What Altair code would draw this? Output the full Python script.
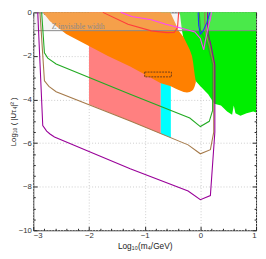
import altair as alt
import pandas as pd

W, H = 229, 224

# ---- regions (log10 m, log10 |U|^2) ----
orange_x = [-2.83, -2.70, -2.41, -2.0, -1.66, -1.26, -0.71, -0.54, -0.44, -0.39, -0.30, -0.24, -0.19, -0.15, -0.13, -0.11, -0.10, -0.08]
orange_lo = [0, -0.41, -0.99, -1.54, -2.0, -2.48, -3.25, -3.38, -3.5, -3.56, -3.65, -3.68, -3.66, -3.6, -3.55, -3.45, -3.38, -3.2]
orange_hi = [0, 0, 0, 0, 0, 0, 0, 0, -0.55, -0.84, -1.14, -1.45, -1.72, -2.0, -2.3, -2.7, -2.9, -3.2]

green_x = [-0.37, -0.33, -0.28, -0.2, -0.12, -0.10, 0.0, 0.14, 0.25, 0.37, 0.48, 0.57, 0.60, 0.63, 0.72, 0.83, 0.95, 1.0]
green_lo = [0, -0.84, -1.5, -2.3, -3.0, -3.1, -3.39, -3.76, -4.19, -4.27, -4.55, -4.7, -4.27, -4.63, -4.75, -4.63, -4.55, -4.6]

pink_x = [-2.0, -1.26, -0.71]
pink_lo = [-4.22, -4.99, -5.57]
cyan_x = [-0.71, -0.53]
cyan_lo = [-5.57, -5.76]

box_x = [-1.0, -0.52]
box_y = [-2.96, -2.74]

band_y = [-0.84, 0]
band_label = "Z invisible width"
band_label_pos = [-2.67, -0.66]

# ---- curves ----
curves = {
    "green": ([-2.85, -2.80, -2.74, -2.59, -1.26, -0.19, 0.0, 0.16, 0.22, 0.22, 0.13, 0.05, 0.0, -0.02],
              [0, -1.86, -2.1, -2.37, -3.76, -4.85, -5.24, -5.0, -4.5, -2.4, -1.5, -1.1, -0.8, 0]),
    "brown": ([-2.88, -2.80, -2.72, -2.59, -1.26, -0.22, 0.0, 0.18, 0.24, 0.24, 0.16, 0.10, 0.08, 0.08],
              [0, -3.14, -3.4, -3.64, -4.99, -6.08, -6.49, -6.3, -5.5, -2.4, -1.5, -1.0, -0.5, 0]),
    "purple": ([-2.92, -2.83, -2.76, -2.70, -2.62, -2.0, -1.26, -0.22, 0.0, 0.18, 0.26, 0.26, 0.19, 0.14, 0.13, 0.13],
               [0, -5.2, -5.45, -5.58, -5.72, -6.38, -7.18, -8.2, -8.6, -8.41, -5.5, -2.4, -1.5, -1.0, -0.5, 0]),
    "red": ([-1.75, -1.3, -0.88, -0.6, -0.47, -0.41, -0.39],
            [0, -0.55, -0.85, -0.93, -0.92, -0.7, 0]),
    "magenta": ([-1.43, -1.23, -0.88, -0.62, -0.3, -0.1, 0.0, 0.06, 0.09, 0.13, 0.18, 0.2],
                [0, -0.19, -0.34, -0.55, -0.75, -0.9, -1.2, -1.72, -1.3, -0.8, -0.3, 0]),
    "blue": ([-0.04, -0.03, 0.0, 0.05, 0.12, 0.17],
             [0, -0.6, -1.0, -0.85, -0.45, 0]),
}
curve_colors = {"green": "#22aa22", "brown": "#a57a4a", "purple": "#990099",
                "red": "#ff3b3b", "magenta": "#ff44ff", "blue": "#2233ff"}

x_major = [-3, -2, -1, 0, 1]
y_major = [-10, -8, -6, -4, -2, 0]
x_ticks = [-3, -2.8, -2.6, -2.4, -2.2, -2, -1.8, -1.6, -1.4, -1.2, -1, -0.8, -0.6, -0.4, -0.2,
           0, 0.2, 0.4, 0.6, 0.8, 1]
y_ticks = [-10, -9.5, -9, -8.5, -8, -7.5, -7, -6.5, -6, -5.5, -5, -4.5, -4, -3.5, -3, -2.5,
           -2, -1.5, -1, -0.5, 0]

xs = alt.Scale(domain=[-3, 1], nice=False, zero=False)
ys = alt.Scale(domain=[-10, 0], nice=False, zero=False)

font = "Liberation Sans"
x_axis = alt.Axis(values=x_major, ticks=False, domain=False, grid=True, gridColor="#cccccc",
                  gridDash=[1, 2], labelFont=font, labelFontSize=8, labelColor="#333333",
                  labelPadding=1, title="Log₁₀(m₄/GeV)", titleFont=font, titleFontSize=8.5,
                  titleFontWeight="normal", titleColor="#222222", titlePadding=3)
y_axis = alt.Axis(values=y_major, ticks=False, domain=False, grid=True, gridColor="#cccccc",
                  gridDash=[1, 2], labelFont=font, labelFontSize=8, labelColor="#333333",
                  labelPadding=2, title="Log₁₀ ( |Uτ₄|² )", titleFont=font, titleFontSize=8,
                  titleFontWeight="normal", titleColor="#222222", titlePadding=1)

X = alt.X("x:Q", scale=xs, axis=x_axis)
Y = alt.Y("y:Q", scale=ys, axis=y_axis)

def area_df(xv, lo, hi):
    return pd.DataFrame({"x": xv, "y": lo, "y2": hi})

green_df = area_df(green_x, green_lo, [0] * len(green_x))
pink_df = area_df(pink_x, pink_lo, [0] * len(pink_x))
cyan_df = area_df(cyan_x, cyan_lo, [0] * len(cyan_x))
orange_df = area_df(orange_x, orange_lo, orange_hi)

def area(df, color):
    return alt.Chart(df).mark_area(color=color, opacity=1, interpolate="linear",
                                   orient="vertical").encode(
        x=X, y=Y, y2="y2:Q")

green_l = area(green_df, "#00ee00")
pink_l = area(pink_df, "#ff8080")
cyan_l = area(cyan_df, "#00ffff")
orange_l = area(orange_df, "#ff8000")

box_df = pd.DataFrame({"x": [box_x[0]], "x2": [box_x[1]], "y": [box_y[0]], "y2": [box_y[1]]})
box_l = alt.Chart(box_df).mark_rect(fill="#ff8000", stroke="#6b3a1a", strokeWidth=1,
                                    strokeDash=[2, 1]).encode(x=X, x2="x2:Q", y=Y, y2="y2:Q")

band_df = pd.DataFrame({"x": [-3], "x2": [1], "y": [band_y[0]], "y2": [band_y[1]]})
band_l = alt.Chart(band_df).mark_rect(fill="#e1e1e1", opacity=0.33).encode(
    x=X, x2="x2:Q", y=Y, y2="y2:Q")
band_line = alt.Chart(band_df).mark_rule(color="#888888", strokeWidth=1).encode(
    x=X, x2="x2:Q", y=Y)
label_df = pd.DataFrame({"x": [band_label_pos[0]], "y": [band_label_pos[1]], "t": [band_label]})
label_l = alt.Chart(label_df).mark_text(font="Liberation Serif", fontSize=8, color="#8a8a8a",
                                        align="left", baseline="middle").encode(
    x=X, y=Y, text="t:N")

rows = []
for name, (cx, cy) in curves.items():
    for i, (a, b) in enumerate(zip(cx, cy)):
        rows.append({"s": name, "o": i, "x": a, "y": b})
curve_df = pd.DataFrame(rows)
lines_l = alt.Chart(curve_df).mark_line(strokeWidth=1.1, interpolate="linear").encode(
    x=X, y=Y, detail="s:N", order="o:Q",
    color=alt.Color("s:N", legend=None,
                    scale=alt.Scale(domain=list(curve_colors.keys()),
                                    range=list(curve_colors.values()))))

base = alt.layer(green_l, pink_l, cyan_l, orange_l, box_l, band_l, band_line, label_l, lines_l)

x_tick_size = {"condition": {"test": "abs(datum.value - round(datum.value)) < 0.01", "value": 4}, "value": 2}
y_tick_size = {"condition": {"test": "abs(datum.value/2 - round(datum.value/2)) < 0.01", "value": 4}, "value": 2}

dummy = pd.DataFrame({"x": [0], "y": [-5]})

def tick_layer(xorient, yorient):
    return alt.Chart(dummy).mark_point(opacity=0).encode(
        x=alt.X("x:Q", scale=xs, axis=alt.Axis(orient=xorient, offset=-H, values=x_ticks,
                                               labels=False, title="", domain=False, grid=False,
                                               tickColor="#222222", tickSize=x_tick_size)),
        y=alt.Y("y:Q", scale=ys, axis=alt.Axis(orient=yorient, offset=-W, values=y_ticks,
                                               labels=False, title="", domain=False, grid=False,
                                               tickColor="#222222", tickSize=y_tick_size)))

ticks_a = tick_layer("top", "right")
ticks_b = tick_layer("bottom", "left")

chart = alt.layer(base, ticks_a, ticks_b).resolve_axis(x="independent", y="independent").properties(
    width=W, height=H,
    autosize=alt.AutoSizeParams(type="none"),
    padding={"left": 26, "top": 1, "right": 2, "bottom": 24},
).configure_view(stroke="#222222", strokeWidth=1)

chart.save("out.html", embed_options={"renderer": "svg", "actions": False})
